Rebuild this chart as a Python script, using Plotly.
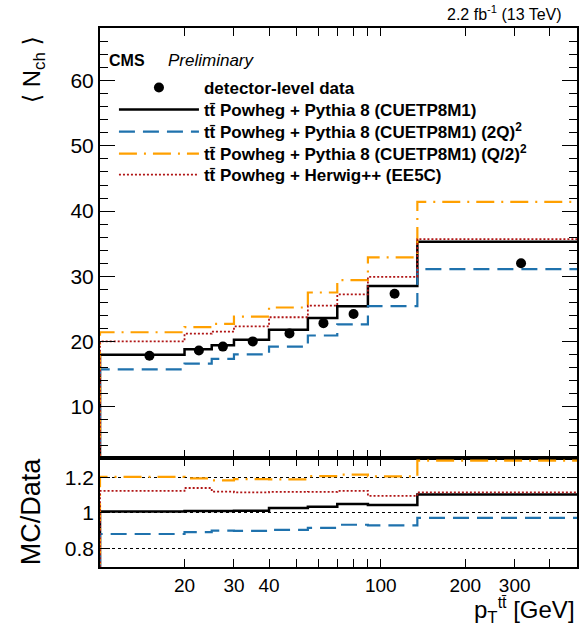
import plotly.graph_objects as go

# ---------------- data ----------------
bin_edges = [10, 20, 25, 30, 40, 55, 70, 90, 135, 500]
data_x = [15, 22.5, 27.4, 35, 47.3, 62.5, 80, 112, 316]
data_y = [17.8, 18.6, 19.2, 20.0, 21.2, 22.8, 24.2, 27.3, 32.0]
pythia_nom = [17.95, 18.8, 19.4, 20.25, 21.8, 23.6, 25.4, 28.5, 35.3]
pythia_2q = [15.7, 16.6, 17.3, 18.0, 19.2, 20.9, 22.6, 25.4, 31.1]
pythia_q2 = [21.4, 22.2, 22.7, 23.8, 25.2, 27.5, 29.4, 32.9, 41.4]
herwig = [20.0, 21.2, 21.5, 22.3, 23.7, 25.5, 27.2, 29.9, 35.7]

names = [
    "tt\u0304 Powheg + Pythia 8 (CUETP8M1)",
    "tt\u0304 Powheg + Pythia 8 (CUETP8M1) (2Q)<sup>2</sup>",
    "tt\u0304 Powheg + Pythia 8 (CUETP8M1) (Q/2)<sup>2</sup>",
    "tt\u0304 Powheg + Herwig++ (EE5C)",
]
series = [pythia_nom, pythia_2q, pythia_q2, herwig]
colors = ["#000000", "#1f72ad", "#ffa000", "#b01515"]
dashes = ["solid", "16px,8px", "18px,7px,2px,7px", "2px,2px"]
widths = [2.5, 2.2, 2.2, 1.8]

W, H = 583, 628
ML, MR, MT, MB = 100, 4, 28, 61
PW, PH = W - ML - MR, H - MT - MB


def px(x):
    return (x - ML) / PW


def py(y):
    return (H - MB - y) / PH


split = 109 / PH
legend_rows = [88, 110, 132, 154, 175]
legend_ids = ["legend", "legend2", "legend3", "legend4", "legend5"]


def step(vals, base=0.0):
    xs = [bin_edges[0]] + list(bin_edges)
    ys = [base] + list(vals) + [vals[-1]]
    return xs, ys


fig = go.Figure()

fig.add_trace(go.Scatter(x=data_x, y=data_y, mode="markers", name="detector-level data",
                         marker=dict(color="black", size=10, symbol="circle"),
                         xaxis="x", yaxis="y", cliponaxis=False, legend=legend_ids[0]))

for i, (vals, nm, c, d, w) in enumerate(zip(series, names, colors, dashes, widths)):
    xs, ys = step(vals)
    fig.add_trace(go.Scatter(x=xs, y=ys, mode="lines", line_shape="hv", name=nm,
                             line=dict(color=c, dash=d, width=w), xaxis="x", yaxis="y",
                             legend=legend_ids[i + 1]))

for vals, c, d, w in zip(series, colors, dashes, widths):
    ratio = [m / dd for m, dd in zip(vals, data_y)]
    xs, ys = step(ratio)
    fig.add_trace(go.Scatter(x=xs, y=ys, mode="lines", line_shape="hv", showlegend=False,
                             line=dict(color=c, dash=d, width=w), xaxis="x2", yaxis="y2"))

font_family = "Liberation Sans, Arial, Helvetica, sans-serif"
xr = [1, 2.69897]
x_major = [20, 30, 40, 100, 200, 300]
x_minor = [50, 60, 70, 80, 90, 400]

common_x = dict(type="log", range=xr, showline=True, linecolor="black", linewidth=2,
                mirror="ticks", ticks="inside", ticklen=8, tickwidth=1, tickcolor="black",
                tickmode="array", tickvals=x_major, showgrid=False, zeroline=False,
                minor=dict(tickmode="array", tickvals=x_minor, ticks="inside", ticklen=8,
                           tickcolor="black", tickwidth=1, showgrid=False))

fig.update_layout(
    width=W, height=H,
    margin=dict(l=ML, r=MR, t=MT, b=MB),
    paper_bgcolor="white", plot_bgcolor="white",
    font=dict(family=font_family, color="black"),
    xaxis=dict(common_x, anchor="y", showticklabels=False),
    xaxis2=dict(common_x, anchor="y2", matches="x", ticktext=[str(v) for v in x_major],
                showticklabels=True, tickfont=dict(size=19)),
    yaxis=dict(domain=[split, 1], range=[2.1, 68.1], showline=True, linecolor="black",
               linewidth=2, mirror="ticks", ticks="inside", ticklen=15, tickwidth=1,
               tickcolor="black", tickvals=[10, 20, 30, 40, 50, 60], showgrid=False,
               zeroline=False, tickfont=dict(size=21), anchor="x",
               minor=dict(tickmode="array", tickvals=[v for v in range(4, 68, 2) if v % 10],
                          ticks="inside", ticklen=8, tickcolor="black", tickwidth=1)),
    yaxis2=dict(domain=[0, split], range=[0.697, 1.308], showline=True, linecolor="black",
                linewidth=1.5, mirror="ticks", ticks="inside", ticklen=10, tickwidth=1,
                tickcolor="black", tickvals=[0.8, 1.0, 1.2], ticktext=["0.8", "1", "1.2"],
                showgrid=True, gridcolor="black", griddash="dot", gridwidth=1,
                zeroline=False, tickfont=dict(size=21), anchor="x2"),
    showlegend=True,
)

for lid, row in zip(legend_ids, legend_rows):
    fig.update_layout({lid: dict(x=px(114), y=py(row), xanchor="left", yanchor="middle",
                                 bgcolor="rgba(0,0,0,0)", borderwidth=0,
                                 font=dict(size=17, weight="bold", family=font_family),
                                 itemwidth=80)})

ann = [
    dict(text="\u27e8 N<sub>ch</sub> \u27e9", x=px(33), y=py(70), textangle=-90,
         font=dict(size=24, family="Liberation Sans, DejaVu Sans")),
    dict(text="MC/Data", x=px(31), y=py(511), textangle=-90, font=dict(size=27)),
    dict(text="p<sub>T</sub><sup><span style='font-size:16px'>tt\u0304</span></sup> [GeV]",
         x=1, y=py(610), xanchor="right", font=dict(size=24)),
    dict(text="2.2 fb<sup>-1</sup> (13 TeV)", x=px(566), y=py(13), xanchor="right",
         font=dict(size=16)),
    dict(text="<b>CMS</b>", x=px(107), y=py(61), xanchor="left", font=dict(size=16)),
    dict(text="<i>Preliminary</i>", x=px(166), y=py(61), xanchor="left", font=dict(size=17)),
]
for a in ann:
    a.setdefault("xanchor", "center")
    a.update(xref="paper", yref="paper", yanchor="middle", showarrow=False)
fig.update_layout(annotations=ann)

fig.write_html("out.html")
